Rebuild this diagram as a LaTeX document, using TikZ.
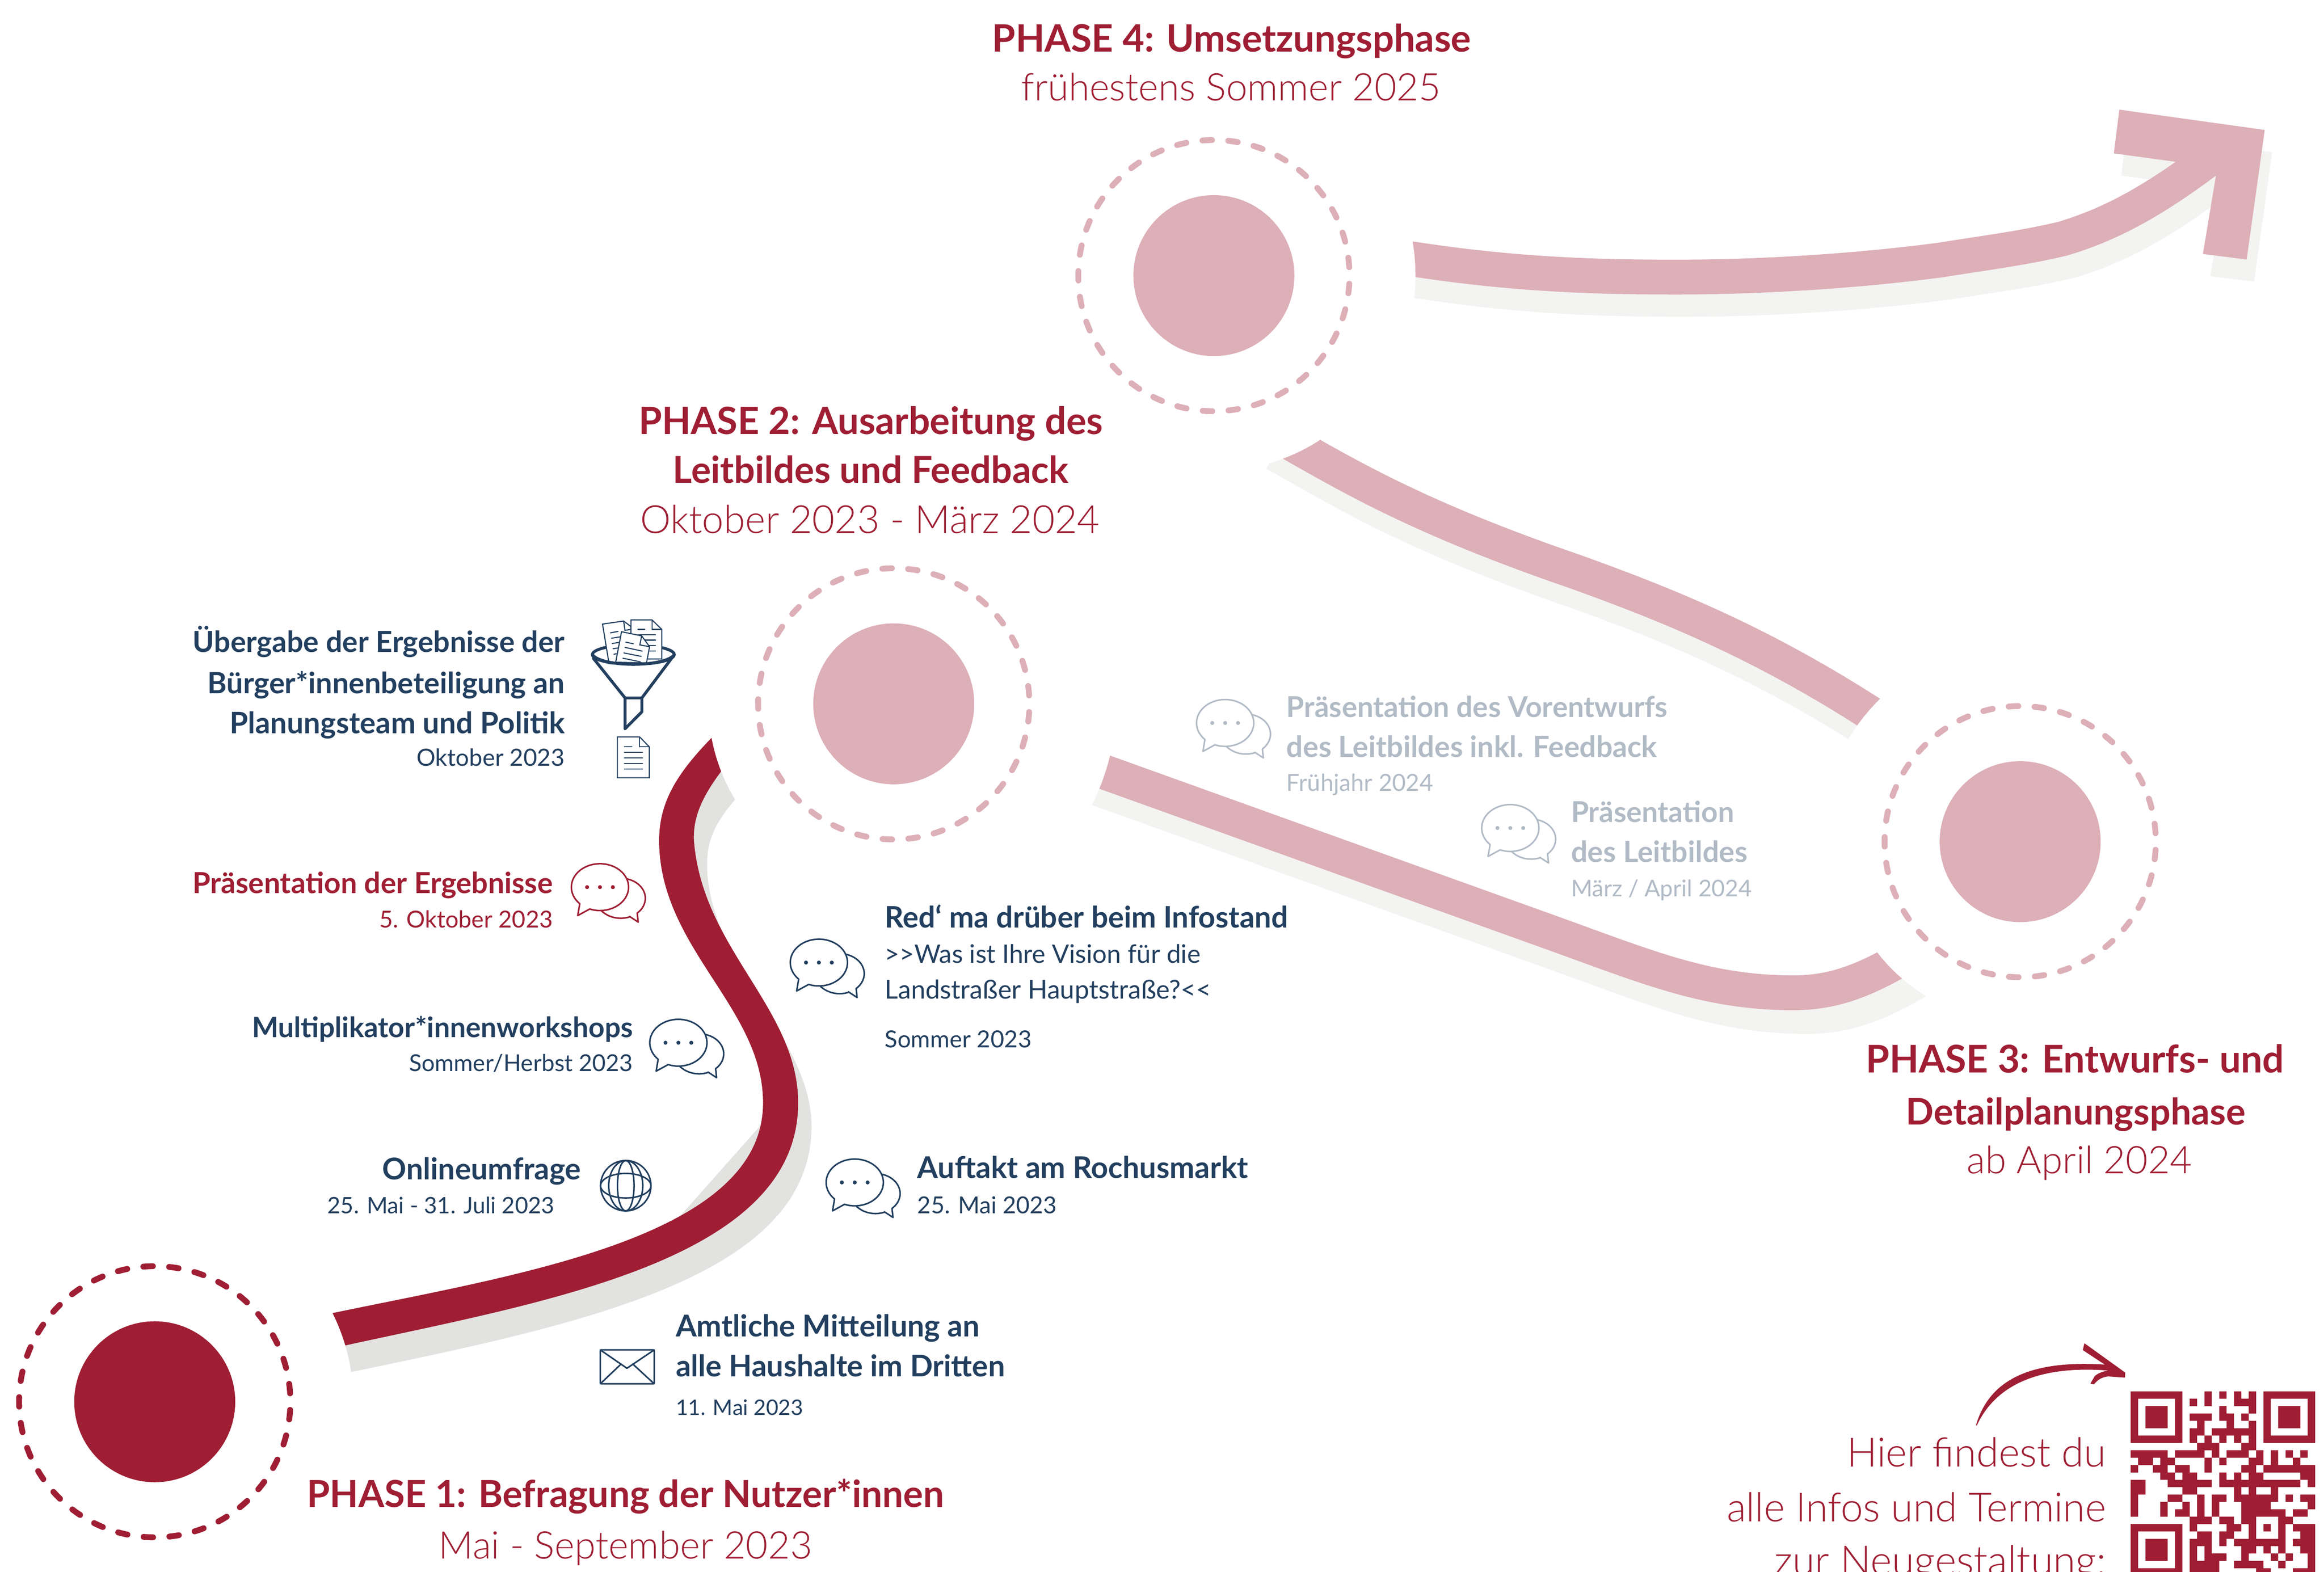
\documentclass[tikz,border=0pt]{standalone}
\usepackage{fontspec}
\usepackage{graphicx}
\setmainfont{Lato}
\newfontfamily\lightf{Lato Light}
\definecolor{rd}{HTML}{9F1E33}
\definecolor{pk}{HTML}{DDAFB7}
\definecolor{nv}{HTML}{223F5F}
\definecolor{gy}{HTML}{B1BBC6}
\definecolor{sd}{HTML}{E2E2E0}
\definecolor{sl}{HTML}{F3F3F1}
\newlength\uu
\setlength\uu{1.0132pt}
\tikzset{
 ribbon/.style={line width=23.8pt,line cap=butt,line join=round},
 halo/.style={fill=white,draw=none},
 dashring/.style={line width=4pt,line cap=round,dash pattern=on 6.5pt off 11.15pt,dash phase=12.07pt},
 lbl/.style={inner sep=0pt,outer sep=0pt},
 thinln/.style={line width=0.72pt,line cap=round,line join=miter},
 iconln/.style={line width=1.05pt,line join=round,line cap=round},
 pics/bubbles/.style={code={
  \draw[iconln,#1,fill=white] plot[domain=-80:48,samples=24,smooth] ({14+16.6*cos(\x)},{7.5+13.5*sin(\x)}) -- (25.8,23.6) -- (20,19.8) -- plot[domain=69:130,samples=10,smooth] ({14+16.6*cos(\x)},{7.5+13.5*sin(\x)}) -- (1.1,16.2);
  \draw[iconln,#1,fill=white] (-6.9,14.75) -- (-15,19.2) -- plot[domain=135:471,samples=60,smooth] ({19.3*cos(\x)},{15.8*sin(\x)}) -- cycle;
  \fill[#1] (-8.7,0) circle (1.35) (0,0) circle (1.35) (8.7,0) circle (1.35);
 }}
}
% name, x, baseline, anchor, width, colour, text
\newcommand{\Lbl}[7]{\node[lbl,anchor=#4,text=#6] (#1) at (#2,#3) {\resizebox{#5\uu}{!}{#7}};}
\newcommand{\HB}{\fontsize{26}{30}\selectfont\bfseries}
\newcommand{\HL}{\fontsize{26}{30}\selectfont\lightf}
\newcommand{\IB}{\fontsize{19}{22}\selectfont\bfseries}
\newcommand{\IL}{\fontsize{16}{20}\selectfont}
\begin{document}
\begin{tikzpicture}[x=0.035612cm,y=-0.035612cm]
\useasboundingbox (0,0) rectangle (1568,1060.6);
\clip (0,0) rectangle (1568,1060.6);
\fill[white] (0,0) rectangle (1568,1060.6);
% --- ribbon to the arrow
\def\pathA{(930,171) .. controls (1010,185) and (1070,187) .. (1131,187) .. controls (1195,187) and (1260,182) .. (1309,175.5) .. controls (1340,170.5) and (1365,167.5) .. (1392,161) .. controls (1425,151) and (1455,135) .. (1500,100)}
\def\headA{(1429.9,74) -- (1528,87.7) -- (1515.8,175.1) -- (1486.3,171.4) -- (1496,113) -- (1426.2,103.5) -- cycle}
\begin{scope}[shift={(5,15)}]
 \draw[ribbon,sl] \pathA;
 \fill[sl] \headA;
\end{scope}
\draw[ribbon,pk] \pathA;
\fill[pk] \headA;
\fill[halo] (819,186) circle (136);
% --- ribbon P4 to P3
\def\pathB{(860,293) .. controls (905,318) and (950,347) .. (1062,385.5) .. controls (1130,410) and (1200,438) .. (1290,500)}
\draw[ribbon,sl,shift={(0,13)}] \pathB;
\draw[ribbon,pk] \pathB;
\fill[halo] (819,186) circle (132);
\fill[halo] (1363,568) circle (135);
% --- ribbon P3 to P2
\def\pathC{(725,513.8) -- (1040,627) .. controls (1110,652) and (1150,670) .. (1210,670) .. controls (1240,670) and (1262,660) .. (1295,640)}
\draw[ribbon,sl,shift={(9,16)}] \pathC;
\draw[ribbon,pk] \pathC;
\fill[halo] (603,475) circle (150);
\fill[halo] (1363,568) circle (122);
% --- red ribbon with its shadow
\fill[sd] (215,930.5) .. controls (380,896) and (547.5,866) .. (547.5,760) .. controls (547.5,700) and (477,650) .. (477.1,583.1) .. controls (477,565) and (484,550) .. (510,525) -- (484,510) -- (456,570) -- (490,650) -- (526,745) -- (440,842) -- (225,897) -- cycle;
\fill[rd] (205,890.5) -- (224.7,886.1) .. controls (350,860) and (515,835) .. (514.8,744.3) .. controls (515,680) and (445,640) .. (444.7,567.4) .. controls (444.7,540) and (458,520) .. (484,494) -- (495,510) .. controls (474,535) and (468,550) .. (468.1,565.9) .. controls (473,640) and (538.5,680) .. (538.5,744.3) .. controls (538.5,850) and (370,878) .. (232.9,908) -- (210,913.3) -- cycle;
\fill[halo] (603,475) circle (125);
\fill[halo] (104.4,946) circle (134);
% --- phase discs
\fill[rd] (104.4,946) circle (54.3);
\draw[dashring,rd] (104.4,946) circle (91.5);
\fill[pk] (603,475) circle (54.3);
\draw[dashring,pk] (603,475) circle (91.5);
\fill[pk] (1363,568) circle (54.3);
\draw[dashring,pk] (1363,568) circle (91.5);
\fill[pk] (819,186) circle (54.3);
\draw[dashring,pk] (819,186) circle (91.5);
% --- bubbles
\pic at (576.7,798) {bubbles=nv};
\pic at (552.5,649.6) {bubbles=nv};
\pic at (457.7,703.7) {bubbles=nv};
\pic at (404.8,598.7) {bubbles=rd};
\pic at (826.6,487.9) {bubbles=gy};
\pic at (1019,558.8) {bubbles=gy};
% --- globe
\draw[iconln,nv] (422.2,800.2) circle (17);
\draw[iconln,nv] (422.2,800.2) ellipse [x radius=5.6,y radius=17];
\draw[iconln,nv] (422.2,800.2) ellipse [x radius=11.5,y radius=17];
\draw[iconln,nv] (422.2,800.2) ellipse [x radius=17,y radius=8.3];
% --- envelope
\draw[iconln,nv,rounded corners=0.6] (405,911) rectangle (441.4,933.9);
\draw[iconln,nv] (405,911) -- (423,923.4) -- (441.4,911);
\draw[iconln,nv] (405,933.9) -- (419,920.6) (441.4,933.9) -- (427,920.6);
% --- funnel and documents
\begin{scope}[shift={(365.06,393.1)},scale=0.0936]
 \draw[nv,line width=2pt] (665,520) ellipse [x radius=295,y radius=70];
 \draw[nv,line width=.75pt,fill=white,line join=miter] (443,300) -- (595,278) -- (648,318) -- (648,500) -- (540,585) -- (490,585) -- cycle;
 \draw[nv,line width=.75pt] (595,278) -- (605,345) -- (648,338);
 \foreach \a/\b/\c/\d in {500/363/555/353,508/402/570/392,513/440/560/432,518/478/555/472,525/517/545/514}
  \draw[thinln,nv] (\a,\b) -- (\c,\d);
 \draw[nv,line width=.75pt,fill=white,line join=miter] (648,270) -- (800,270) -- (870,338) -- (870,552) -- (648,552) -- cycle;
 \draw[nv,line width=.75pt] (800,270) -- (800,338) -- (870,338);
 \draw[thinln,nv] (698,338) -- (748,338);
 \foreach \b in {378,415,455,494}
  \draw[thinln,nv] (700,\b) -- (825,\b);
 \draw[nv,line width=.75pt,fill=white,line join=miter] (580,355) -- (725,385) -- (782,463) -- (760,580) -- (538,575) -- cycle;
 \draw[nv,line width=.75pt] (725,385) -- (712,450) -- (782,463);
 \foreach \a/\b/\c/\d in {610/430/665/442,605/468/730/495,597/508/722/533,590/546/715/572}
  \draw[thinln,nv] (\a,\b) -- (\c,\d);
 \fill[white] (530,588) rectangle (780,620);
 \draw[nv,line width=2pt] (370,520) .. controls (400,565) and (530,590) .. (665,590) .. controls (800,590) and (930,565) .. (960,520);
 \draw[nv,line width=2pt,line join=round,line cap=round] (378,548) -- (605,832) -- (605,1055) -- (727,932) -- (727,832) -- (940,548);
 \draw[nv,line width=2pt] (605,832) -- (727,832);
 \draw[nv,line width=.75pt,line join=miter] (550,1113) -- (710,1113) -- (780,1185) -- (780,1408) -- (550,1408) -- cycle;
 \draw[nv,line width=.75pt] (710,1113) -- (710,1185) -- (780,1185);
 \draw[thinln,nv] (600,1185) -- (655,1185);
 \foreach \b in {1225,1265,1306,1346}
  \draw[thinln,nv] (600,\b) -- (732,\b);
\end{scope}
% --- hand arrow
\filldraw[rd,line width=.6pt,line join=round] (1333.5,961.8) .. controls (1343,930) and (1372,918) .. (1421.2,921.3) -- (1405.6,911) -- (1406.5,907) -- (1433.6,926.5) -- (1433.4,929.4) -- (1422.5,928.6) .. controls (1418,929) and (1415,931) .. (1412.6,934) -- (1410.8,933.6) -- (1413.5,929) .. controls (1416,926.5) and (1421,925) .. (1426.5,925) .. controls (1375,920) and (1346,935) .. (1333.5,961.8) -- cycle;
% --- QR
\fill[rd,even odd rule]
 \foreach \ox/\oy in {0/0,18/0,0/18}{
  ({1437.6+\ox*4.974},{939+\oy*4.974}) rectangle ({1437.6+(\ox+7)*4.974},{939+(\oy+7)*4.974})
  ({1437.6+(\ox+1)*4.974},{939+(\oy+1)*4.974}) rectangle ({1437.6+(\ox+6)*4.974},{939+(\oy+6)*4.974})
  ({1437.6+(\ox+2)*4.974},{939+(\oy+2)*4.974}) rectangle ({1437.6+(\ox+5)*4.974},{939+(\oy+5)*4.974})
 }
 \foreach \r/\a/\b in {0/10/10,0/12/12,0/14/14,0/16/16,
 1/8/8,1/10/10,1/14/16,
 2/12/12,2/16/16,
 3/8/10,3/12/13,3/15/15,
 4/9/9,4/13/13,4/16/16,
 5/8/9,5/11/16,
 6/8/8,6/10/10,6/12/12,6/14/14,6/16/16,
 7/9/11,7/15/16,
 8/0/4,8/6/9,8/11/11,8/13/15,8/17/17,8/19/19,8/21/21,8/23/23,
 9/1/2,9/4/5,9/10/10,9/12/12,9/16/17,9/19/19,9/22/22,
 10/0/0,10/3/4,10/6/7,10/10/10,10/15/16,10/18/24,
 11/4/5,11/7/8,11/12/12,11/14/14,11/16/17,11/23/24,
 12/0/1,12/5/10,12/12/22,12/24/24,
 13/0/1,13/7/8,13/14/14,13/16/16,13/19/19,
 14/0/0,14/5/6,14/9/9,14/11/12,14/14/19,14/21/21,14/23/24,
 15/0/0,15/4/4,15/7/7,15/9/9,15/11/11,15/15/18,15/24/24,
 16/0/0,16/4/4,16/6/7,16/9/9,16/11/11,16/15/20,16/22/23,
 17/8/10,17/12/13,17/15/16,17/20/21,
 18/8/8,18/13/14,18/16/16,18/18/18,18/20/20,18/22/24,
 19/9/10,19/12/13,19/16/16,19/20/20,19/23/24,
 20/8/10,20/12/12,20/14/20,20/22/24,
 21/8/8,21/10/10,21/15/16,21/18/18,21/20/20,21/23/24,
 22/8/8,22/10/12,22/15/15,22/19/19,22/21/21,22/24/24,
 23/8/11,23/14/17,23/20/20,23/24/24,
 24/8/11,24/17/18,24/22/24}{
  ({1437.6+\a*4.974},{939+\r*4.974}) rectangle ({1437.6+(\b+1)*4.974},{939+(\r+1)*4.974})
 };
% --- phase labels
\Lbl{pfa}{831}{35}{base}{323}{rd}{\HB PHASE 4: Umsetzungsphase}
\Lbl{pfb}{830.5}{68}{base}{283}{rd}{\HL frühestens Sommer 2025}
\Lbl{pba}{587.5}{293}{base}{313}{rd}{\HB PHASE 2: Ausarbeitung des}
\Lbl{pbb}{587.5}{326}{base}{267}{rd}{\HB Leitbildes und Feedback}
\Lbl{pbc}{587}{360}{base}{310}{rd}{\HL Oktober 2023 - März 2024}
\Lbl{pca}{1400}{724}{base}{282}{rd}{\HB PHASE 3: Entwurfs- und}
\Lbl{pcb}{1400.5}{759}{base}{229}{rd}{\HB Detailplanungsphase}
\Lbl{pcc}{1403}{792}{base}{152}{rd}{\HL ab April 2024}
\Lbl{paa}{422}{1017}{base}{430}{rd}{\HB PHASE 1: Befragung der Nutzer*innen}
\Lbl{pab}{422}{1052}{base}{252}{rd}{\HL Mai - September 2023}
% --- items left
\Lbl{ua}{381}{440}{base east}{251}{nv}{\IB Übergabe der Ergebnisse der}
\Lbl{ub}{381}{468}{base east}{241}{nv}{\IB Bürger*innenbeteiligung an}
\Lbl{uc}{381}{495}{base east}{226}{nv}{\IB Planungsteam und Politik}
\Lbl{ud}{381}{517}{base east}{100}{nv}{\IL Oktober 2023}
\Lbl{ra}{373}{603}{base east}{243}{rd}{\IB Präsentation der Ergebnisse}
\Lbl{rb}{373}{626}{base east}{117}{rd}{\IL 5. Oktober 2023}
\Lbl{ma}{427}{700}{base east}{257}{nv}{\IB Multiplikator*innenworkshops}
\Lbl{mb}{427}{723}{base east}{151}{nv}{\IL Sommer/Herbst 2023}
\Lbl{oa}{392}{796}{base east}{134}{nv}{\IB Onlineumfrage}
\Lbl{ob}{374}{819}{base east}{153}{nv}{\IL 25. Mai - 31. Juli 2023}
% --- items right
\Lbl{ia}{597}{626}{base west}{272}{nv}{\IB Red‘ ma drüber beim Infostand}
\Lbl{ib}{597}{650}{base west}{213}{nv}{\IL >{}>Was ist Ihre Vision für die}
\Lbl{ic}{597}{674}{base west}{220}{nv}{\IL Landstraßer Hauptstraße?<{}<}
\Lbl{id}{597}{707}{base west}{99}{nv}{\IL Sommer 2023}
\Lbl{aa}{619}{795}{base west}{223}{nv}{\IB Auftakt am Rochusmarkt}
\Lbl{ab}{619}{819}{base west}{94}{nv}{\IL 25. Mai 2023}
\Lbl{ha}{456}{902}{base west}{205}{nv}{\IB Amtliche Mitteilung an}
\Lbl{hb}{456}{929}{base west}{222}{nv}{\IB alle Haushalte im Dritten}
\Lbl{hc}{456}{955}{base west}{86}{nv}{\IL 11. Mai 2023}
\Lbl{ga}{868}{484}{base west}{257}{gy}{\IB Präsentation des Vorentwurfs}
\Lbl{gb}{868}{511}{base west}{250}{gy}{\IB des Leitbildes inkl. Feedback}
\Lbl{gc}{868}{534}{base west}{99}{gy}{\IL Frühjahr 2024}
\Lbl{ja}{1060}{555}{base west}{110}{gy}{\IB Präsentation}
\Lbl{jb}{1060}{582}{base west}{119}{gy}{\IB des Leitbildes}
\Lbl{jc}{1060}{605}{base west}{122}{gy}{\IL März / April 2024}
% --- QR text
\Lbl{qa}{1421}{990}{base east}{175}{rd}{\HL Hier findest du}
\Lbl{qb}{1421}{1027}{base east}{256}{rd}{\HL alle Infos und Termine}
\Lbl{qc}{1421}{1063}{base east}{224}{rd}{\HL zur Neugestaltung:}
\end{tikzpicture}
\end{document}
